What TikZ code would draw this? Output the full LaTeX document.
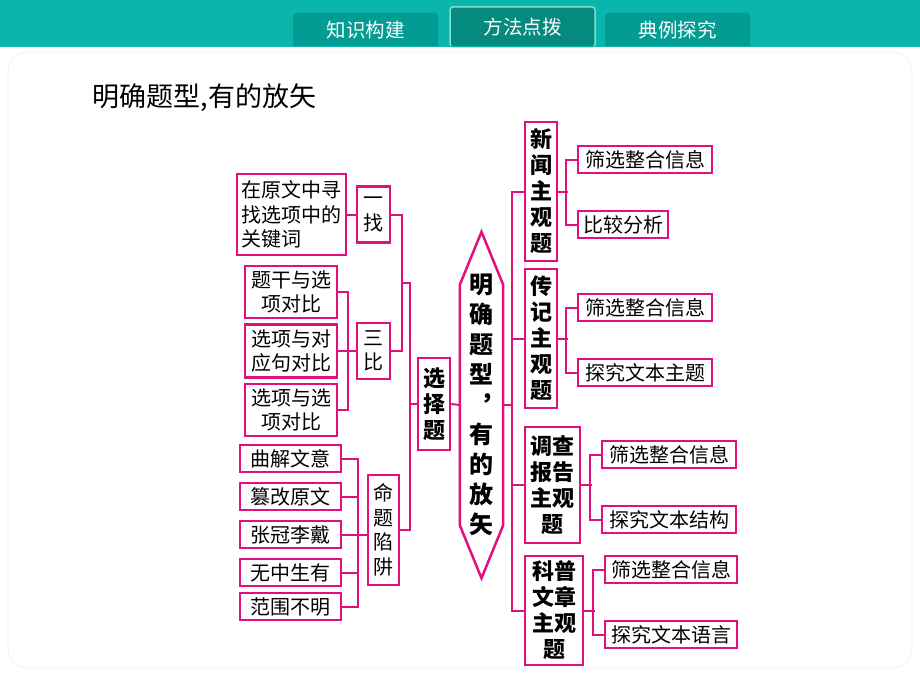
\documentclass[tikz,border=0pt]{standalone}
\usepackage{fontspec}
\setmainfont{Noto Sans CJK SC}
\definecolor{boxpink}{RGB}{226,16,126}
\definecolor{barteal}{RGB}{12,181,171}
\definecolor{tabteal}{RGB}{2,156,146}
\definecolor{seltab}{RGB}{6,138,128}
\definecolor{selrim}{RGB}{125,222,212}
\begin{document}
\begin{tikzpicture}[x=1pt, y=-1pt,
    pinkbox/.style={draw=boxpink, line width=2.5pt, fill=white, inner sep=0pt, align=center, font=\fontsize{20}{24.5}\selectfont},
    colbox/.style={pinkbox, font=\bfseries\fontsize{22}{26}\selectfont},
    sz/.style 2 args={minimum width=#1, minimum height=#2},
    link/.style={draw=boxpink, line width=2pt},
    tab/.style={fill=tabteal, rounded corners=3pt, text=white, minimum width=145, minimum height=34, font=\fontsize{19.5}{22}\selectfont}]
    \useasboundingbox (0,0) rectangle (920,690);
    % top bar and tabs
    \fill[barteal] (0,0) rectangle (920,46);
    \node[tab] (tabknow) at (365.5,30) {知识构建};
    \node[tab] (tabcase) at (677.5,30) {典例探究};
    \node[tab, fill=seltab, draw=selrim, line width=1.5pt, minimum height=40] (tabway) at (522.5,27) {方法点拨};
    \fill[barteal] (0,46) rectangle (920,47);
    \draw[black!6, line width=0.8pt, rounded corners=18pt] (8,52) rectangle (912,668);
    \node[anchor=west, font=\fontsize{27}{30}\selectfont] (title) at (89,98) {明确题型,有的放矢};

    % left half
    \node[pinkbox, sz={109}{81}, align=left] (find) at (291.5,214.5) {在原文中寻\\找选项中的\\关键词};
    \node[pinkbox, sz={33}{56}] (yizhao) at (373.5,214.5) {一\\找};
    \node[pinkbox, sz={92}{52}] (tigan) at (291,292) {题干与选\\项对比};
    \node[pinkbox, sz={92}{53}] (duiying) at (291,351) {选项与对\\应句对比};
    \node[pinkbox, sz={92}{52}] (xuanxiang) at (291,410) {选项与选\\项对比};
    \node[pinkbox, sz={33}{56}] (sanbi) at (373.5,351) {三\\比};
    \node[pinkbox, sz={101}{27}] (qujie) at (290.5,458.5) {曲解文意};
    \node[pinkbox, sz={101}{27}] (cuangai) at (290.5,496.5) {篡改原文};
    \node[pinkbox, sz={101}{27}] (zhangguan) at (290.5,534.5) {张冠李戴};
    \node[pinkbox, sz={101}{27}] (wuzhong) at (290.5,572.5) {无中生有};
    \node[pinkbox, sz={101}{27}] (fanwei) at (290.5,606.5) {范围不明};
    \node[pinkbox, sz={31}{110}] (mingti) at (383.5,530) {命\\题\\陷\\阱};
    \node[colbox, sz={32}{92}] (xzt) at (434,404) {选\\择\\题};
    \node[sz={43}{346}, align=center, font=\bfseries\fontsize{24}{30}\selectfont] (hex) at (481.5,405) {明\\确\\题\\型\\︐\\有\\的\\放\\矢};
    \draw[boxpink, line width=2.5pt] (hex.north) -- ([yshift=-53pt]hex.north east) -- ([yshift=53pt]hex.south east)
        -- (hex.south) -- ([yshift=53pt]hex.south west) -- ([yshift=-53pt]hex.north west) -- cycle;

    % right half
    \node[colbox, sz={32}{139}] (xinwen) at (541,191.5) {新\\闻\\主\\观\\题};
    \node[pinkbox, sz={134}{27}] (xwsift) at (645,159.5) {筛选整合信息};
    \node[pinkbox, sz={90}{27}] (xwcomp) at (623,224.5) {比较分析};
    \node[colbox, sz={32}{139}] (zhuanji) at (541,338.5) {传\\记\\主\\观\\题};
    \node[pinkbox, sz={134}{27}] (zjsift) at (645,307.5) {筛选整合信息};
    \node[pinkbox, sz={134}{27}] (zjtheme) at (645,372.5) {探究文本主题};
    \node[colbox, sz={55}{116}] (diaocha) at (552.5,485) {调查\\报告\\主观\\题};
    \node[pinkbox, sz={134}{27}] (dcsift) at (669,454.5) {筛选整合信息};
    \node[pinkbox, sz={134}{27}] (dcstruct) at (669,519.5) {探究文本结构};
    \node[colbox, sz={58}{109}] (kepu) at (554,610.5) {科普\\文章\\主观\\题};
    \node[pinkbox, sz={132}{27}] (kpsift) at (671,569.5) {筛选整合信息};
    \node[pinkbox, sz={132}{27}] (kplang) at (671,634.5) {探究文本语言};

    % links
    \draw[link] (find.east) -- (yizhao.west);
    \draw[link] (tigan.east) -- ++(10,0) |- (xuanxiang.east);
    \draw[link] (duiying.east) -- (sanbi.west);
    \draw[link] (qujie.east) -- ++(16,0) |- (fanwei.east);
    \draw[link] (cuangai.east) -- ++(16,0);
    \draw[link] (wuzhong.east) -- ++(16,0);
    \draw[link] (zhangguan.east) -- (mingti.west |- zhangguan.east);
    \draw[link] (yizhao.east) -- ++(11,0) |- (sanbi.east);
    \coordinate (pick) at (401,283);
    \draw[link] (pick) -- ++(9,0) |- (mingti.east);
    \draw[link] (xzt.west) -- ++(-8,0);
    \draw[link] (xzt.east) -- (hex.west);
    \draw[link] (hex.east) -- ++(10,0);
    \draw[link] (xinwen.west) -- ++(-12,0) |- (kepu.west);
    \draw[link] (zhuanji.west) -- ++(-12,0);
    \draw[link] (diaocha.west) -- ++(-12,0);
    \draw[link] (xwsift.west) -- ++(-11,0) |- (xwcomp.west);
    \draw[link] (xinwen.east) -- ++(10,0);
    \draw[link] (zjsift.west) -- ++(-11,0) |- (zjtheme.west);
    \draw[link] (zhuanji.east) -- ++(10,0);
    \draw[link] (dcsift.west) -- ++(-11,0) |- (dcstruct.west);
    \draw[link] (diaocha.east) -- ++(11,0);
    \draw[link] (kpsift.west) -- ++(-11,0) |- (kplang.west);
    \draw[link] (kepu.east) -- ++(11,0);
\end{tikzpicture}
\end{document}
